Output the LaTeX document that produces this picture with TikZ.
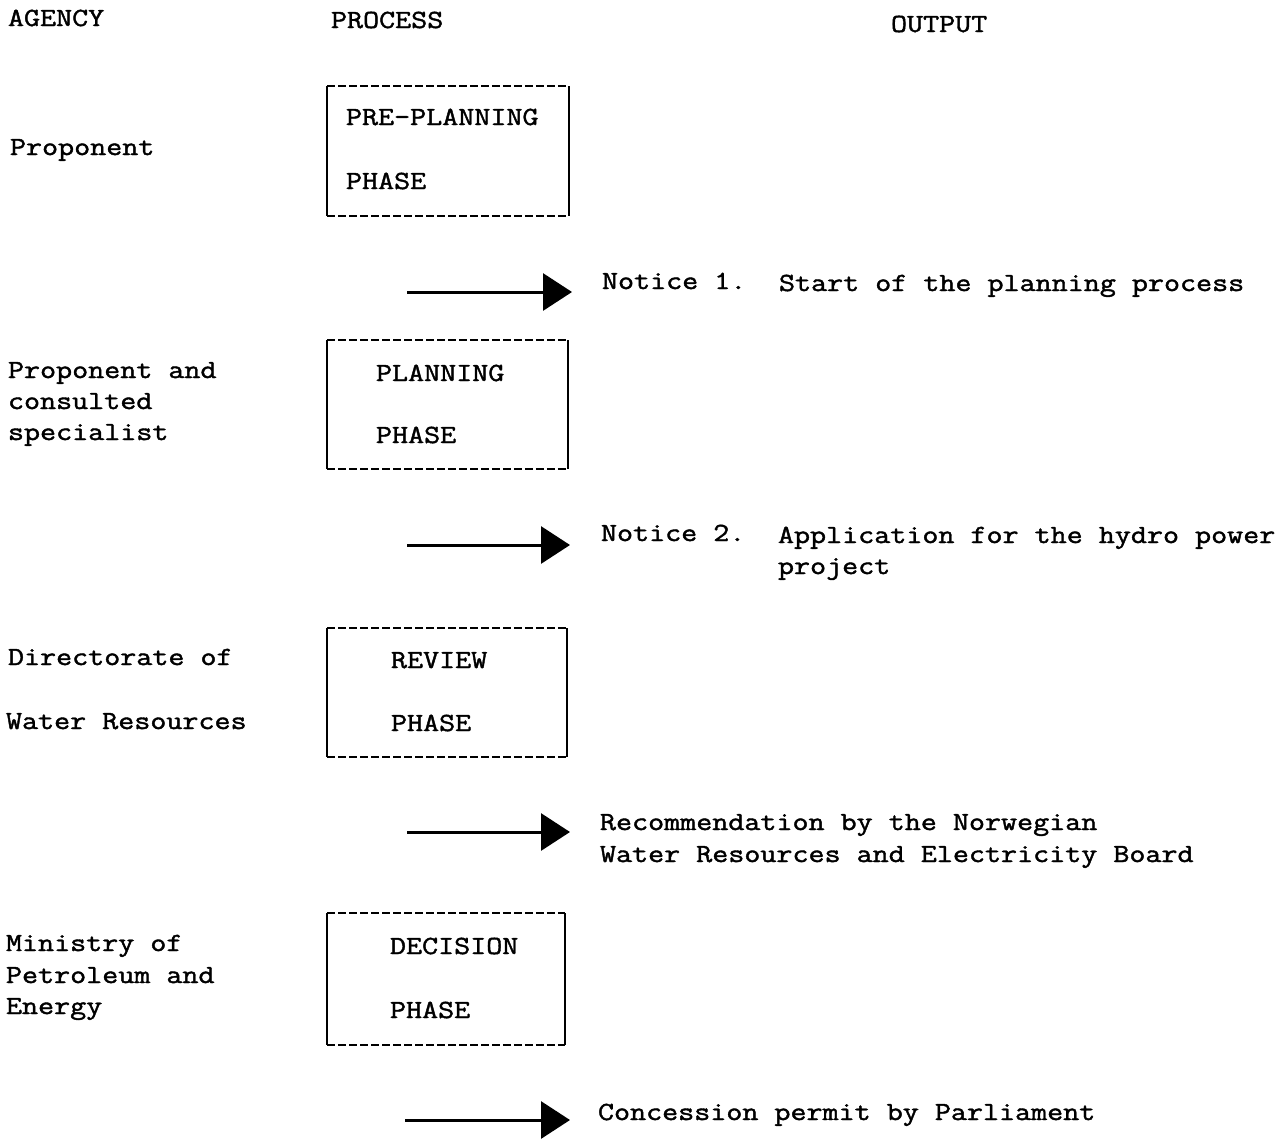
\documentclass[tikz,border=0pt]{standalone}
\usepackage{fontspec}
\setmainfont{Liberation Mono}
\newfontfamily\twfont[FakeStretch=1.19,FakeBold=1.6]{Latin Modern Mono}
\usetikzlibrary{arrows.meta}
\begin{document}
\begin{tikzpicture}[x=0.02cm,y=-0.02cm,
  txt/.style={anchor=base west,inner sep=0pt,outer sep=0pt,
    font=\twfont\fontsize{14.9pt}{17.6pt}\selectfont},
  hdr/.style={txt},
  phasebox/.style={rectangle,inner sep=0pt,outer sep=0pt},
  boxdash/.style={line width=1.1pt,dash pattern=on 0.16cm off 0.06cm},
  boxside/.style={line width=1.2pt},
  flow/.style={line width=1.7pt,-{Triangle[length=0.58cm,width=0.74cm]}}]
\useasboundingbox (0,0) rectangle (1287,1140);

% headers
\node[hdr] (hAgency) at (8,26) {AGENCY};
\node[hdr] (hProcess) at (331,28) {PROCESS};
\node[hdr] (hOutput) at (891,32) {OUTPUT};

% agency column
\node[txt] (ag1) at (10,155) {Proponent};
\node[txt] (ag2a) at (8,378) {Proponent and};
\node[txt] (ag2b) at (8,409) {consulted};
\node[txt] (ag2c) at (8,440) {specialist};
\node[txt] (ag3a) at (8,665) {Directorate of};
\node[txt] (ag3b) at (6,729) {Water Resources};
\node[txt] (ag4a) at (6,951) {Ministry of};
\node[txt] (ag4b) at (6,983) {Petroleum and};
\node[txt] (ag4c) at (6,1014) {Energy};

% phase boxes
\node[phasebox,minimum width=4.84cm,minimum height=2.6cm] (b1) at (448,151) {};
\node[phasebox,minimum width=4.82cm,minimum height=2.58cm] (b2) at (447.5,404.5) {};
\node[phasebox,minimum width=4.80cm,minimum height=2.58cm] (b3) at (447,692.5) {};
\node[phasebox,minimum width=4.76cm,minimum height=2.64cm] (b4) at (446,979) {};
\foreach \b in {b1,b2,b3,b4}{
  \draw[boxdash] (\b.north west) -- (\b.north east);
  \draw[boxdash] (\b.south west) -- (\b.south east);
  \draw[boxside] (\b.north west) -- (\b.south west);
  \draw[boxside] (\b.north east) -- (\b.south east);
}

\node[txt] (p1a) at (346,125) {PRE-PLANNING};
\node[txt] (p1b) at (346,189) {PHASE};
\node[txt] (p2a) at (376,381) {PLANNING};
\node[txt] (p2b) at (376,443) {PHASE};
\node[txt] (p3a) at (391,668) {REVIEW};
\node[txt] (p3b) at (391,731) {PHASE};
\node[txt] (p4a) at (390,954) {DECISION};
\node[txt] (p4b) at (390,1018) {PHASE};

% arrows
\coordinate (a1s) at (407,292);
\coordinate (a1e) at (572,292);
\coordinate (a2s) at (407,545);
\coordinate (a2e) at (570,545);
\coordinate (a3s) at (407,832);
\coordinate (a3e) at (570,832);
\coordinate (a4s) at (405,1120);
\coordinate (a4e) at (570,1120);
\draw[flow] (a1s) -- (a1e);
\draw[flow] (a2s) -- (a2e);
\draw[flow] (a3s) -- (a3e);
\draw[flow] (a4s) -- (a4e);

% outputs
\node[txt] (o1a) at (602,289) {Notice 1.};
\node[txt] (o1b) at (779,291) {Start of the planning process};
\node[txt] (o2a) at (601,541) {Notice 2.};
\node[txt] (o2b) at (778,543) {Application for the hydro power};
\node[txt] (o2c) at (778,574) {project};
\node[txt] (o3a) at (600,830) {Recommendation by the Norwegian};
\node[txt] (o3b) at (600,862) {Water Resources and Electricity Board};
\node[txt] (o4) at (598,1120) {Concession permit by Parliament};
\end{tikzpicture}
\end{document}
